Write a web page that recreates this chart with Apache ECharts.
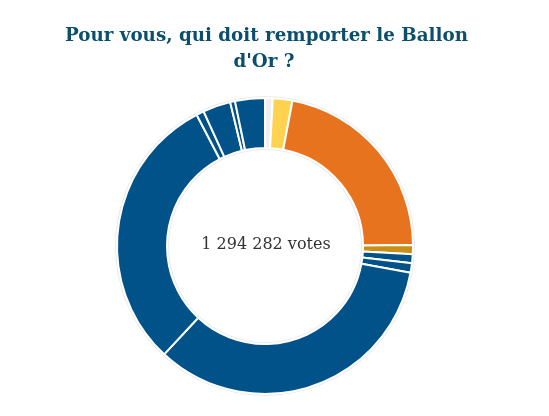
<!DOCTYPE html>
<html>
<head>
<meta charset="utf-8">
<script src="https://cdn.jsdelivr.net/npm/echarts@6/dist/echarts.min.js"></script>
<style>
html,body{margin:0;padding:0;background:#fff;}
#chart{width:549px;height:416px;}
</style>
</head>
<body>
<div id="chart"></div>
<script>
const titleLines = ["Pour vous, qui doit remporter le Ballon", "d'Or ?"];
const centerText = "1 294 282 votes";
const candidates = ["Candidat A","Candidat B","Candidat C","Candidat D","Candidat E","Candidat F","Candidat G","Candidat H","Candidat I","Candidat J","Candidat K","Candidat L"];
const votes = [10800, 27700, 283700, 12900, 12600, 13300, 440400, 393700, 10800, 39200, 6800, 42100];
const colors = ["#efefef","#ffd24f","#e8731f","#c98e17","#02528a","#02528a","#02528a","#02528a","#02528a","#02528a","#02528a","#02528a"];

const titleFont = {fontFamily: 'DejaVu Serif', fontWeight: 'bold', fontSize: 18.3, fill: '#0b4f6d'};
const chart = echarts.init(document.getElementById('chart'));
chart.setOption({
  animation: false,
  graphic: [
    {type: 'text', x: 266.5, y: 36.5, style: Object.assign({text: titleLines[0], textAlign: 'center', textVerticalAlign: 'middle'}, titleFont)},
    {type: 'text', x: 264, y: 62.5, style: Object.assign({text: titleLines[1], textAlign: 'center', textVerticalAlign: 'middle'}, titleFont)},
    {type: 'text', x: 266, y: 244.5, z: 10, style: {text: centerText, textAlign: 'center', textVerticalAlign: 'middle', fontFamily: 'DejaVu Serif', fontSize: 16, fill: '#333'}}
  ],
  series: [{
    type: 'pie',
    silent: true,
    center: [265, 246],
    radius: [96, 150],
    startAngle: 90,
    label: {show: false},
    itemStyle: {color: '#ebebeb'},
    data: [1]
  }, {
    type: 'pie',
    center: [265, 246],
    radius: [98, 148],
    startAngle: 90,
    clockwise: true,
    avoidLabelOverlap: false,
    label: {show: false},
    labelLine: {show: false},
    itemStyle: {borderColor: '#fff', borderWidth: 2},
    data: candidates.map((n, i) => ({name: n, value: votes[i], itemStyle: {color: colors[i]}}))
  }]
});
</script>
</body>
</html>
